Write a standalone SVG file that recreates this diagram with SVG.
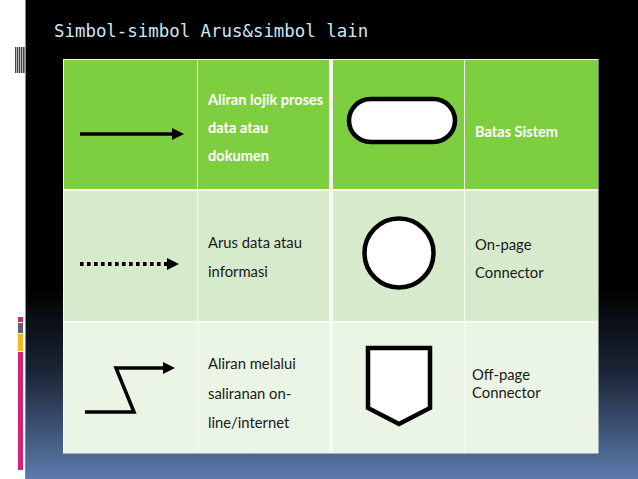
<svg xmlns="http://www.w3.org/2000/svg" width="638" height="479" viewBox="0 0 638 479">
<defs>
<linearGradient id="bg" x1="0" y1="0" x2="0" y2="1">
<stop offset="0" stop-color="#000000"/>
<stop offset="0.6" stop-color="#000000"/>
<stop offset="0.78" stop-color="#1c2638"/>
<stop offset="1" stop-color="#5c7aad"/>
</linearGradient>
<marker id="ah" viewBox="0 0 12 12" refX="0" refY="6" markerWidth="12" markerHeight="12" markerUnits="userSpaceOnUse" orient="auto">
<path d="M0,0 L12,6 L0,12 Z" fill="#000"/>
</marker>
</defs>
<style>
.t{font-family:Lato,"Open Sans","Liberation Sans",sans-serif;font-size:14.8px;fill:#1a1a1a}
.b{font-family:Lato,"Open Sans","Liberation Sans",sans-serif;font-size:14.6px;font-weight:bold;fill:#ffffff}
.r1{fill:#7dcf3f}
.r2{fill:#d6eacc}
.r3{fill:#eaf5e5}
.sym{fill:#ffffff;stroke:#000;stroke-width:4.5}
.ln{fill:none;stroke:#000;stroke-width:3.5}
</style>
<rect x="0" y="0" width="638" height="479" fill="#ffffff"/>
<rect x="25" y="0" width="613" height="479" fill="url(#bg)"/>
<line x1="25.5" y1="0" x2="25.5" y2="479" stroke="#8a8a8a" stroke-width="1"/>
<g id="barcode" fill="#444">
<rect x="15" y="47" width="1.4" height="26"/>
<rect x="17" y="47" width="1.4" height="26"/>
<rect x="19" y="47" width="1.4" height="26"/>
<rect x="21" y="47" width="1.4" height="26"/>
<rect x="23" y="47" width="1.6" height="26"/>
</g>
<g id="sidebars">
<rect x="18" y="317" width="5" height="5" fill="#d6237a"/>
<rect x="18" y="323" width="5" height="10" fill="#5b6272"/>
<rect x="18" y="334" width="5" height="17" fill="#f4b922"/>
<rect x="18" y="352" width="5" height="118" fill="#d6237a"/>
</g>
<text id="title" x="54" y="37" font-family="'DejaVu Sans Mono','Liberation Mono',monospace" font-size="17.4" fill="#cfe9f1">Simbol-simbol Arus&amp;simbol lain</text>
<rect x="63" y="59" width="535.5" height="394.5" fill="#f4fbf0"/>
<g id="row1">
<rect class="r1" x="64" y="60" width="133" height="129"/>
<rect class="r1" x="198" y="60" width="131" height="129"/>
<rect class="r1" x="333" y="60" width="131" height="129"/>
<rect class="r1" x="465" y="60" width="133" height="129"/>
</g>
<g id="row2">
<rect class="r2" x="64" y="191" width="133" height="130"/>
<rect class="r2" x="198" y="191" width="131" height="130"/>
<rect class="r2" x="333" y="191" width="131" height="130"/>
<rect class="r2" x="465" y="191" width="133" height="130"/>
</g>
<g id="row3">
<rect class="r3" x="64" y="323" width="133" height="130"/>
<rect class="r3" x="198" y="323" width="131" height="130"/>
<rect class="r3" x="333" y="323" width="131" height="130"/>
<rect class="r3" x="465" y="323" width="133" height="130"/>
</g>
<g id="connectors">
<line id="sym-solid" class="ln" x1="80" y1="134" x2="172" y2="134" marker-end="url(#ah)"/>
<line id="sym-dotted" x1="80" y1="264" x2="167" y2="264" stroke="#000" stroke-width="4" stroke-dasharray="3.6,3.4" marker-end="url(#ah)"/>
<polyline id="sym-online" class="ln" points="85,412 134,412 116,368 163,368" marker-end="url(#ah)"/>
</g>
<g id="batas-sistem">
<rect class="sym" x="349" y="99" width="106" height="43" rx="21.5" ry="21.5"/>
<text class="b" x="475" y="137">Batas Sistem</text>
</g>
<g id="aliran-lojik">
<text class="b" x="208" y="104.5">Aliran lojik proses</text>
<text class="b" x="208" y="132.5">data atau</text>
<text class="b" x="208" y="160.5">dokumen</text>
</g>
<g id="arus-data">
<text class="t" x="208" y="248">Arus data atau</text>
<text class="t" x="208" y="277">informasi</text>
</g>
<g id="on-page">
<circle class="sym" cx="399" cy="253" r="34.5"/>
<text class="t" x="475" y="250">On-page</text>
<text class="t" x="475" y="278">Connector</text>
</g>
<g id="aliran-online">
<text class="t" x="208" y="369">Aliran melalui</text>
<text class="t" x="208" y="399">saliranan on-</text>
<text class="t" x="208" y="428">line/internet</text>
</g>
<g id="off-page">
<polygon class="sym" points="368,348 430,348 430,408 399,424 368,408"/>
<text class="t" x="472" y="380">Off-page</text>
<text class="t" x="472" y="398">Connector</text>
</g>
</svg>
